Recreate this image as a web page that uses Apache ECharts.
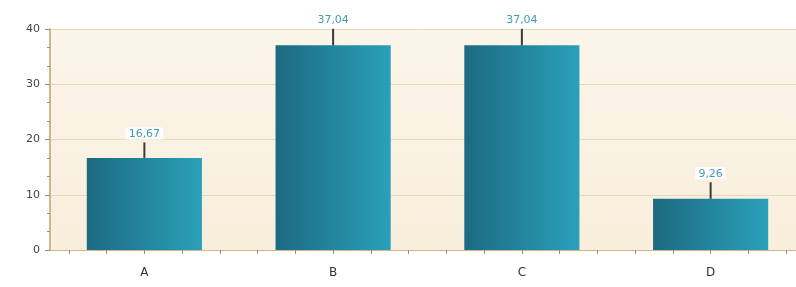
<!DOCTYPE html>
<html>
<head>
<meta charset="utf-8">
<script src="https://cdn.jsdelivr.net/npm/echarts@6/dist/echarts.min.js"></script>
<style>
    html, body { margin: 0; padding: 0; background: #ffffff; }
    #chart { width: 796px; height: 287px; }
</style>
</head>
<body>
<div id="chart"></div>
<script>
    // values
    const categories = ['A', 'B', 'C', 'D'];
    const values = [16.67, 37.04, 37.04, 9.26];
    const errors = [2.8, 3.0, 3.0, 3.0];
    const labels = ['16,67', '37,04', '37,04', '9,26'];
    // five minor x ticks per category
    const subTicks = Array.from({length: categories.length * 5}, (_, i) => String(i));

    const chart = echarts.init(document.getElementById('chart'));

    const font = 'DejaVu Sans';

    const option = {
        animation: false,
        grid: {
            left: 50,
            top: 29,
            width: 755,
            bottom: 37,
            outerBoundsMode: 'none',
            containLabel: false,
            show: true,
            borderWidth: 0,
            backgroundColor: new echarts.graphic.LinearGradient(0, 0, 0, 1, [
                {offset: 0, color: '#fbf5ea'},
                {offset: 1, color: '#f8eedb'}
            ])
        },
        xAxis: [
            {
                type: 'category',
                data: categories,
                axisLine: {lineStyle: {color: '#cdb88a', width: 1}},
                axisTick: {show: true, alignWithLabel: true, length: 4, lineStyle: {color: '#9c9073'}},
                axisLabel: {color: '#333', fontFamily: font, fontSize: 12, margin: 17}
            },
            {
                type: 'category',
                data: subTicks,
                position: 'bottom',
                axisLine: {show: false},
                axisTick: {show: true, interval: 0, alignWithLabel: true, length: 4, lineStyle: {color: '#9c9073'}},
                axisLabel: {show: false, interval: 0}
            }
        ],
        yAxis: {
            type: 'value',
            min: 0,
            max: 40,
            interval: 10,
            axisLine: {show: true, lineStyle: {color: '#cdb88a', width: 2}},
            axisTick: {show: true, length: 5, lineStyle: {color: '#9c9073'}},
            minorTick: {show: true, splitNumber: 3, length: 3, lineStyle: {color: '#9c9073'}},
            splitLine: {lineStyle: {color: '#e6d9bb'}},
            axisLabel: {color: '#444', fontFamily: font, fontSize: 11, margin: 10}
        },
        series: [
            {
                type: 'bar',
                data: values,
                barCategoryGap: '39%',
                itemStyle: {
                    color: new echarts.graphic.LinearGradient(0, 0, 1, 0, [
                        {offset: 0, color: '#1c6a81'},
                        {offset: 1, color: '#2ba0ba'}
                    ])
                }
            },
            {
                type: 'custom',
                data: values.map((v, i) => [i, v, v + errors[i]]),
                z: 5,
                renderItem: function (params, api) {
                    const i = api.value(0);
                    const low = api.coord([i, api.value(1)]);
                    const high = api.coord([i, api.value(2)]);
                    return {
                        type: 'group',
                        children: [
                            {
                                type: 'line',
                                shape: {x1: low[0], y1: low[1], x2: high[0], y2: high[1]},
                                style: {stroke: '#3a3a3a', lineWidth: 2}
                            },
                            {
                                type: 'text',
                                x: high[0],
                                y: high[1] - 3,
                                style: {
                                    text: labels[params.dataIndex],
                                    fill: '#3f9cb3',
                                    font: '11px "' + font + '"',
                                    align: 'center',
                                    verticalAlign: 'bottom',
                                    backgroundColor: '#ffffff',
                                    padding: [1, 3, 0, 3]
                                }
                            }
                        ]
                    };
                }
            }
        ]
    };

    chart.setOption(option);
</script>
</body>
</html>
